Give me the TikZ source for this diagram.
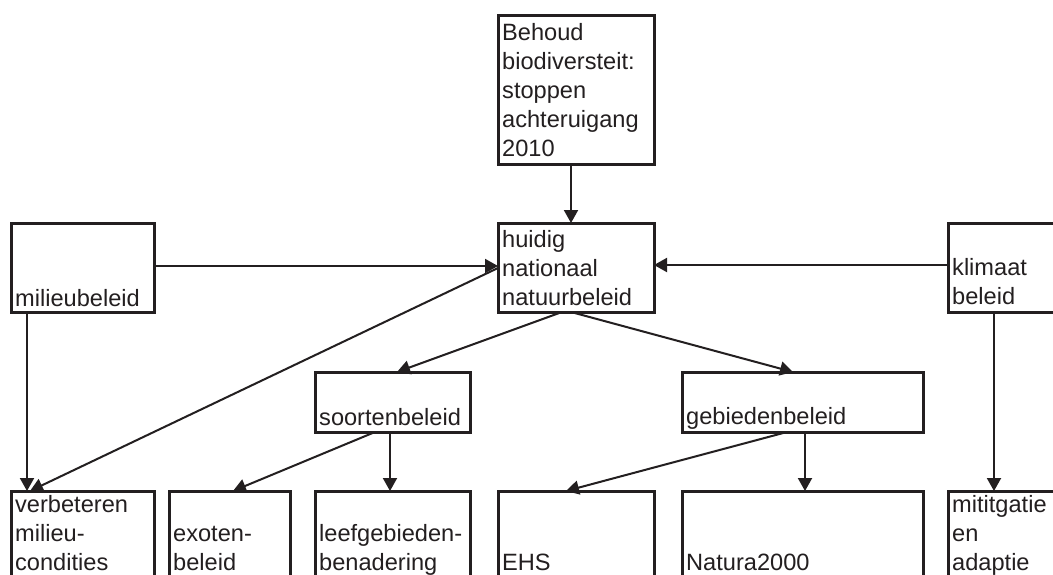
\documentclass[tikz,border=0pt]{standalone}
\usepackage{fontspec}
\setmainfont{Liberation Sans}
\usetikzlibrary{arrows.meta,calc}
\definecolor{ink}{RGB}{35,31,32}
\tikzset{
  boxn/.style={draw=ink, line width=3pt, inner sep=0pt, outer sep=0pt, anchor=north west},
  lbl/.style={text=ink, inner sep=0pt, anchor=base west, font=\fontsize{23.6}{29}\selectfont},
  arr/.style={draw=ink, line width=2pt, -{Triangle[length=13pt,width=14pt]}},
}
\begin{document}
\begin{tikzpicture}[x=1pt,y=-1pt]
\useasboundingbox (0,0) rectangle (1053,574);
\clip (0,0) rectangle (1053,574);
\fill[white] (0,0) rectangle (1053,574);

% boxes
\node[boxn, minimum width=156pt, minimum height=149pt] (behoud) at (498,15) {};
\node[boxn, minimum width=156pt, minimum height=89pt] (huidig) at (498,223) {};
\node[boxn, minimum width=143pt, minimum height=89pt] (milieu) at (11,223) {};
\node[boxn, minimum width=130pt, minimum height=89pt] (klimaat) at (948,223) {};
\node[boxn, minimum width=155pt, minimum height=60pt] (soorten) at (315,372) {};
\node[boxn, minimum width=241pt, minimum height=60pt] (gebieden) at (682,372) {};
\node[boxn, minimum width=143pt, minimum height=120pt] (verbeteren) at (11,491) {};
\node[boxn, minimum width=121pt, minimum height=120pt] (exoten) at (169,491) {};
\node[boxn, minimum width=155pt, minimum height=120pt] (leef) at (315,491) {};
\node[boxn, minimum width=156pt, minimum height=120pt] (ehs) at (498,491) {};
\node[boxn, minimum width=241pt, minimum height=120pt] (natura) at (682,491) {};
\node[boxn, minimum width=130pt, minimum height=120pt] (mitig) at (948,491) {};

% texts
\node[lbl] (behoud-t) at (502,156) {\begin{tabular}[b]{@{}l@{}}Behoud\\biodiversteit:\\stoppen\\achteruigang\\2010\end{tabular}};
\node[lbl] (huidig-t) at (502,305) {\begin{tabular}[b]{@{}l@{}}huidig\\nationaal\\natuurbeleid\end{tabular}};
\node[lbl] (milieu-t) at (15,306) {milieubeleid};
\node[lbl] (klimaat-t) at (952,304) {\begin{tabular}[b]{@{}l@{}}klimaat\\beleid\end{tabular}};
\node[lbl] (soorten-t) at (319,425) {soortenbeleid};
\node[lbl] (gebieden-t) at (686,424) {gebiedenbeleid};
\node[lbl] (verbeteren-t) at (15,570) {\begin{tabular}[b]{@{}l@{}}verbeteren\\milieu-\\condities\end{tabular}};
\node[lbl] (exoten-t) at (173,570) {\begin{tabular}[b]{@{}l@{}}exoten-\\beleid\end{tabular}};
\node[lbl] (leef-t) at (319,570) {\begin{tabular}[b]{@{}l@{}}leefgebieden-\\benadering\end{tabular}};
\node[lbl] (ehs-t) at (502,570) {EHS};
\node[lbl] (natura-t) at (686,570) {Natura2000};
\node[lbl] (mitig-t) at (952,570) {\begin{tabular}[b]{@{}l@{}}mititgatie\\en\\adaptie\end{tabular}};

% connectors
\draw[arr] ($(behoud.south west)+(73,0)$) -- ($(huidig.north west)+(73,0)$);
\draw[arr] ($(milieu.north east)+(0,43)$) -- ($(huidig.north west)+(0,43)$);
\draw[arr] ($(klimaat.north west)+(0,42)$) -- ($(huidig.north east)+(0,42)$);
\draw[arr] ($(huidig.south west)+(64,0)$) -- ($(soorten.north west)+(82,0)$);
\draw[arr] ($(huidig.south west)+(73,0)$) -- ($(gebieden.north west)+(111,0)$);
\draw[arr] ($(milieu.south west)+(16,0)$) -- ($(verbeteren.north west)+(16,0)$);
\draw[arr] ($(huidig.north west)+(0,45)$) -- ($(verbeteren.north west)+(19,0)$);
\draw[arr] ($(soorten.south west)+(60,0)$) -- ($(exoten.north west)+(64,0)$);
\draw[arr] ($(soorten.south west)+(75,0)$) -- ($(leef.north west)+(75,0)$);
\draw[arr] ($(gebieden.south west)+(105,0)$) -- ($(ehs.north west)+(68,0)$);
\draw[arr] ($(gebieden.south west)+(123,0)$) -- ($(natura.north west)+(123,0)$);
\draw[arr] ($(klimaat.south west)+(46,0)$) -- ($(mitig.north west)+(46,0)$);
\end{tikzpicture}
\end{document}
